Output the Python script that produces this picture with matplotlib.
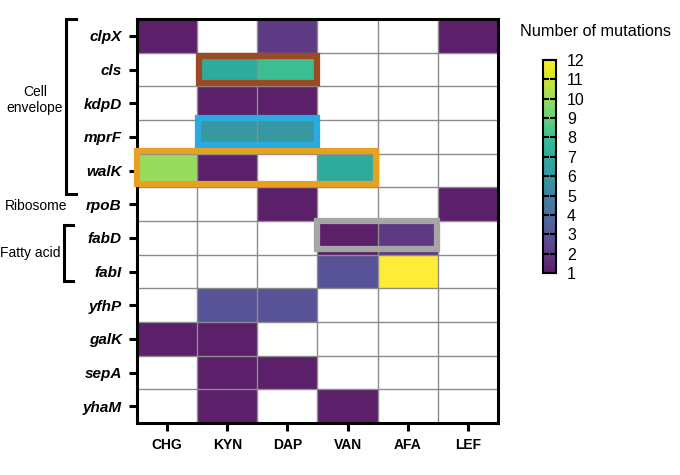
import numpy as np
import matplotlib
matplotlib.use("Agg")
import matplotlib.pyplot as plt
from matplotlib.colors import ListedColormap
from matplotlib.patches import Rectangle
from matplotlib.lines import Line2D

plt.rcParams['font.family'] = ['Liberation Sans', 'DejaVu Sans']

genes = ["clpX", "cls", "kdpD", "mprF", "walK", "rpoB", "fabD", "fabI",
         "yfhP", "galK", "sepA", "yhaM"]
drugs = ["CHG", "KYN", "DAP", "VAN", "AFA", "LEF"]
# rows = genes, columns = drugs; 0 = no mutation
mutations = [
    [1, 0, 2, 0, 0, 1],   # clpX
    [0, 7, 8, 0, 0, 0],   # cls
    [0, 1, 1, 0, 0, 0],   # kdpD
    [0, 6, 6, 0, 0, 0],   # mprF
    [10, 1, 0, 7, 0, 0],  # walK
    [0, 0, 1, 0, 0, 1],   # rpoB
    [0, 0, 0, 1, 2, 0],   # fabD
    [0, 0, 0, 3, 12, 0],  # fabI
    [0, 3, 3, 0, 0, 0],   # yfhP
    [1, 1, 0, 0, 0, 0],   # galK
    [0, 1, 1, 0, 0, 0],   # sepA
    [0, 1, 0, 1, 0, 0],   # yhaM
]
cbar_ticks = list(range(1, 13))

data = np.ma.masked_equal(np.array(mutations, dtype=float), 0)

t = np.linspace(0, 1, 256)
base = plt.get_cmap('viridis')(t)[:, :3]
soft = 0.88 * base + 0.12
bright = base ** 0.8
w = np.clip(1 - t / 0.3, 0, 1)[:, None]
cols = w * soft + (1 - w) * bright
cmap = ListedColormap(cols)
cmap.set_bad('white')

W, H = 680, 475
fig = plt.figure(figsize=(6.8, 4.75), dpi=100)

def fx(px):
    return px / W

def fy(py):
    return 1 - py / H

ax = fig.add_axes([fx(137), fy(423), fx(498) - fx(137), fy(19) - fy(423)])
mesh = ax.pcolormesh(np.arange(len(drugs) + 1), np.arange(len(genes) + 1), data,
                     cmap=cmap, vmin=1, vmax=12)
ax.set_xlim(0, len(drugs))
ax.set_ylim(len(genes), 0)

for i in range(1, len(drugs)):
    ax.axvline(i, color='#8c8c8c', lw=1.0, zorder=2)
for j in range(1, len(genes)):
    ax.axhline(j, color='#8c8c8c', lw=1.0, zorder=2)

ax.set_xticks(np.arange(len(drugs)) + 0.5)
ax.set_xticklabels(drugs, fontsize=10, fontweight='bold')
ax.set_yticks(np.arange(len(genes)) + 0.5)
ax.set_yticklabels(genes, fontsize=11, fontweight='bold', fontstyle='italic')
ax.tick_params(axis='both', direction='out', length=6, width=2.2, pad=5)
for s in ax.spines.values():
    s.set_linewidth(2.2)
    s.set_color('black')

# highlight boxes (data coordinates)
boxes = [
    ((1.03, 1.10), 1.96, 0.80, '#9b4a24'),  # cls
    ((1.01, 2.94), 1.98, 0.80, '#29abe2'),  # mprF
    ((0.00, 3.92), 3.98, 0.98, '#e8a020'),  # walK
    ((3.00, 6.00), 1.98, 0.82, '#a6a6a6'),  # fabD
]
for (x0, y0), w_, h, c in boxes:
    ax.add_patch(Rectangle((x0, y0), w_, h, fill=False, edgecolor=c, lw=4.5,
                           zorder=5, clip_on=False, joinstyle='miter'))

# colorbar
cax = fig.add_axes([fx(543), fy(273), fx(556) - fx(543), fy(60) - fy(273)])
cb = fig.colorbar(mesh, cax=cax, ticks=cbar_ticks)
cb.outline.set_linewidth(1.5)
cax.tick_params(axis='y', which='both', direction='in', length=4, width=1.5,
                labelsize=11.5, pad=8, left=True, right=True)
fig.text(fx(596), fy(32), "Number of mutations", fontsize=11.7, ha='center', va='center')

# group brackets
def bracket(x, y0, y1, serif):
    fig.add_artist(Line2D([fx(x + serif), fx(x), fx(x), fx(x + serif)],
                          [fy(y0), fy(y0), fy(y1), fy(y1)],
                          color='black', lw=2.2, solid_joinstyle='miter'))

bracket(66, 19, 194, 10)
bracket(64, 225, 281, 9)
fig.text(fx(35), fy(100), "Cell\nenvelope", fontsize=10, ha='center', va='center',
         linespacing=1.1)
fig.text(fx(36), fy(206), "Ribosome", fontsize=10, ha='center', va='center')
fig.text(fx(30), fy(253), "Fatty acid", fontsize=10, ha='center', va='center')

fig.savefig("out.png", dpi=100)
